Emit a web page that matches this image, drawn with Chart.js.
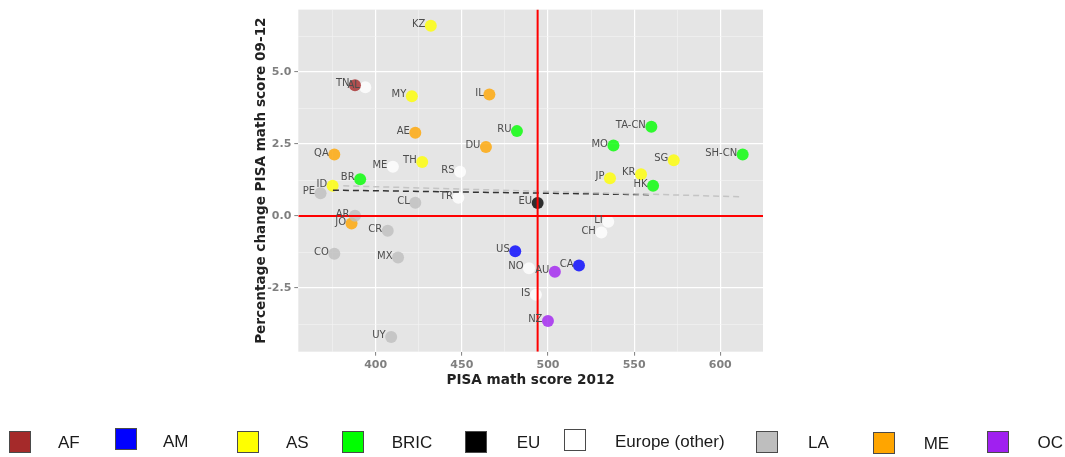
<!DOCTYPE html>
<html><head><meta charset="utf-8">
<script src="https://cdn.jsdelivr.net/npm/chart.js@4"></script>
<style>
html,body{margin:0;padding:0;background:#fff;}
#wrap{position:relative;width:1065px;height:457px;overflow:hidden;}
#c{position:absolute;left:0;top:0;}
.lg-box{position:absolute;width:20px;height:20px;border:1.5px solid #4a4a4a;box-sizing:content-box;}
.lg-txt{position:absolute;font-family:"Liberation Sans",Arial,sans-serif;font-size:17px;color:#1a1a1a;line-height:20px;white-space:nowrap;transform:translateY(-50%);}
</style></head>
<body><div id="wrap"><canvas id="c" width="1065" height="457"></canvas></div>
<script>
// ---- data ----
const regionNames = ['AF','AM','AS','BRIC','EU','Europe (other)','LA','ME','OC'];
const regionColors = ['#A52A2A','#0000FF','#FFFF00','#00FF00','#000000','#FFFFFF','#BEBEBE','#FFA500','#A020F0'];
const countryCodes = ['TN','US','CA','KZ','MY','TH','ID','JP','KR','SG','RU','BR','TA-CN','MO','HK','SH-CN','EU','AL','ME','RS','TR','LI','CH','NO','IS','PE','CL','AR','CR','CO','MX','UY','IL','AE','QA','DU','JO','AU','NZ'];
const countryRegion = ['AF','AM','AM','AS','AS','AS','AS','AS','AS','AS','BRIC','BRIC','BRIC','BRIC','BRIC','BRIC','EU','Europe (other)','Europe (other)','Europe (other)','Europe (other)','Europe (other)','Europe (other)','Europe (other)','Europe (other)','LA','LA','LA','LA','LA','LA','LA','ME','ME','ME','ME','ME','OC','OC'];
const mathScore2012 = [388,481,518,432,421,427,375,536,554,573,482,391,560,538,561,613,494,394,410,449,448,535,531,489,493,368,423,388,407,376,413,409,466,423,376,464,386,504,500];
const pctChange0912 = [4.54,-1.22,-1.72,6.61,4.16,1.88,1.05,1.31,1.45,1.94,2.95,1.28,3.10,2.45,1.05,2.14,0.45,4.47,1.71,1.54,0.64,-0.20,-0.57,-1.81,-2.73,0.79,0.46,0.01,-0.51,-1.31,-1.44,-4.20,4.22,2.89,2.14,2.40,-0.26,-1.93,-3.64];
const refScore = [494];
const refChange = [0];
const trendDarkX = [375.2, 560.8];
const trendDarkY = [0.90, 0.74];
const trendLightX = [381.2, 612.3];
const trendLightY = [1.05, 0.67];
const xTickValues = [375,400,425,450,475,500,525,550,575,600];
const xTickLabels = ['','400','','450','','500','','550','','600'];
const yTickValues = [-3.75,-2.5,-1.25,0,1.25,2.5,3.75,5,6.25];
const yTickLabels = ['','-2.5','','0.0','','2.5','','5.0',''];
const xMin = 355.1, xMax = 624.8, yMin = -4.71, yMax = 7.17;

function withAlpha(hex, a){
  const r=parseInt(hex.slice(1,3),16), g=parseInt(hex.slice(3,5),16), b=parseInt(hex.slice(5,7),16);
  return `rgba(${r},${g},${b},${a})`;
}

const pointSets = regionNames.map((rn, k) => {
  const data = [];
  countryCodes.forEach((c, i) => { if (countryRegion[i] === rn) data.push({x: mathScore2012[i], y: pctChange0912[i], code: c}); });
  return {label: rn, data, order: 2, pointRadius: 6, pointHoverRadius: 6, borderWidth: 0,
    pointBorderWidth: 0, backgroundColor: withAlpha(regionColors[k], 0.8), pointBackgroundColor: withAlpha(regionColors[k], 0.8)};
});

const lineSets = [
  {label:'trendLight', data: trendLightX.map((x,i)=>({x, y: trendLightY[i]})), showLine:true, pointRadius:0,
   borderColor:'#c4c4c4', borderWidth:1.5, borderDash:[6,4], order:1},
  {label:'trendDark', data: trendDarkX.map((x,i)=>({x, y: trendDarkY[i]})), showLine:true, pointRadius:0,
   borderColor:'#333333', borderWidth:1.5, borderDash:[6,4], order:1},
  {label:'refV', data:[{x:refScore[0], y:yMin},{x:refScore[0], y:yMax}], showLine:true, pointRadius:0,
   borderColor:'#FF0000', borderWidth:2, order:0},
  {label:'refH', data:[{x:xMin, y:refChange[0]},{x:xMax, y:refChange[0]}], showLine:true, pointRadius:0,
   borderColor:'#FF0000', borderWidth:2, order:0}
];

const bgPlugin = {
  id:'panelBg',
  beforeDraw(chart){
    const {ctx, chartArea:a} = chart;
    ctx.save(); ctx.fillStyle = '#E5E5E5';
    ctx.fillRect(a.left, a.top, a.right-a.left, a.bottom-a.top); ctx.restore();
  }
};
const labelPlugin = {
  id:'pointLabels',
  afterDatasetsDraw(chart){
    const {ctx, scales:{x, y}} = chart;
    ctx.save();
    ctx.font = '10px "DejaVu Sans"';
    ctx.fillStyle = '#4d4d4d';
    ctx.textAlign = 'right'; ctx.textBaseline = 'middle';
    countryCodes.forEach((c, i) => {
      const px = x.getPixelForValue(mathScore2012[i]);
      const py = y.getPixelForValue(pctChange0912[i]);
      ctx.fillText(c, px - 5.5, py - 1.5);
    });
    ctx.restore();
  }
};

const isMajorX = v => xTickLabels[xTickValues.indexOf(v)] !== '';
const isMajorY = v => yTickLabels[yTickValues.indexOf(v)] !== '';
const tickFont = {family:'DejaVu Sans', size:11, weight:'bold'};
const titleFont = {family:'DejaVu Sans', size:13.6, weight:'bold'};

new Chart(document.getElementById('c'), {
  type:'scatter',
  data:{datasets:[...lineSets, ...pointSets]},
  options:{
    responsive:false, animation:false, events:[],
    layout:{padding:{left:253.8, right:302, top:8.3, bottom:68.3}},
    plugins:{legend:{display:false}, tooltip:{enabled:false}},
    scales:{
      x:{type:'linear', min:xMin, max:xMax,
        afterBuildTicks: s => { s.ticks = xTickValues.map(v => ({value:v})); },
        afterFit: s => { s.height = 37; },
        ticks:{callback: v => xTickLabels[xTickValues.indexOf(v)], color:'#7f7f7f', font:tickFont, padding:3, maxRotation:0, autoSkip:false},
        grid:{color: c => (c.tick && isMajorX(c.tick.value)) ? '#ffffff' : '#f4f4f4',
              lineWidth: c => (c.tick && isMajorX(c.tick.value)) ? 1.2 : 0.6,
              tickLength:4, tickColor: c => (c.tick && isMajorX(c.tick.value)) ? '#7f7f7f' : 'rgba(0,0,0,0)', tickWidth:1},
        border:{display:false},
        title:{display:true, text:'PISA math score 2012', color:'#222', font:titleFont, padding:0}
      },
      y:{type:'linear', min:yMin, max:yMax,
        afterBuildTicks: s => { s.ticks = yTickValues.map(v => ({value:v})); },
        afterFit: s => { s.width = 44.5; },
        ticks:{callback: v => yTickLabels[yTickValues.indexOf(v)], color:'#7f7f7f', font:tickFont, padding:3, autoSkip:false},
        grid:{color: c => (c.tick && isMajorY(c.tick.value)) ? '#ffffff' : '#f4f4f4',
              lineWidth: c => (c.tick && isMajorY(c.tick.value)) ? 1.2 : 0.6,
              tickLength:4, tickColor: c => (c.tick && isMajorY(c.tick.value)) ? '#7f7f7f' : 'rgba(0,0,0,0)', tickWidth:1},
        border:{display:false},
        title:{display:true, text:'Percentage change PISA math score 09-12', color:'#222', font:titleFont, padding:0}
      }
    }
  },
  plugins:[bgPlugin, labelPlugin]
});

// ---- legend (HTML) ----
const legendBoxX = [9.3,115,237,342.3,465,563.5,756,873,987];
const legendBoxY = [431,428.3,431,431,431,429.3,431,432,431];
const legendTxtX = [58,163,286,391.7,516.7,615,808,923.7,1037.5];
const legendTxtY = [443,441.7,443,443.3,443,442,443,444,443];
const wrap = document.getElementById('wrap');
regionNames.forEach((rn, k) => {
  const b = document.createElement('div'); b.className = 'lg-box';
  b.style.left = legendBoxX[k] + 'px'; b.style.top = legendBoxY[k] + 'px'; b.style.background = regionColors[k];
  wrap.appendChild(b);
  const t = document.createElement('div'); t.className = 'lg-txt'; t.textContent = rn;
  t.style.left = legendTxtX[k] + 'px'; t.style.top = legendTxtY[k] + 'px';
  wrap.appendChild(t);
});
</script>
</body></html>
